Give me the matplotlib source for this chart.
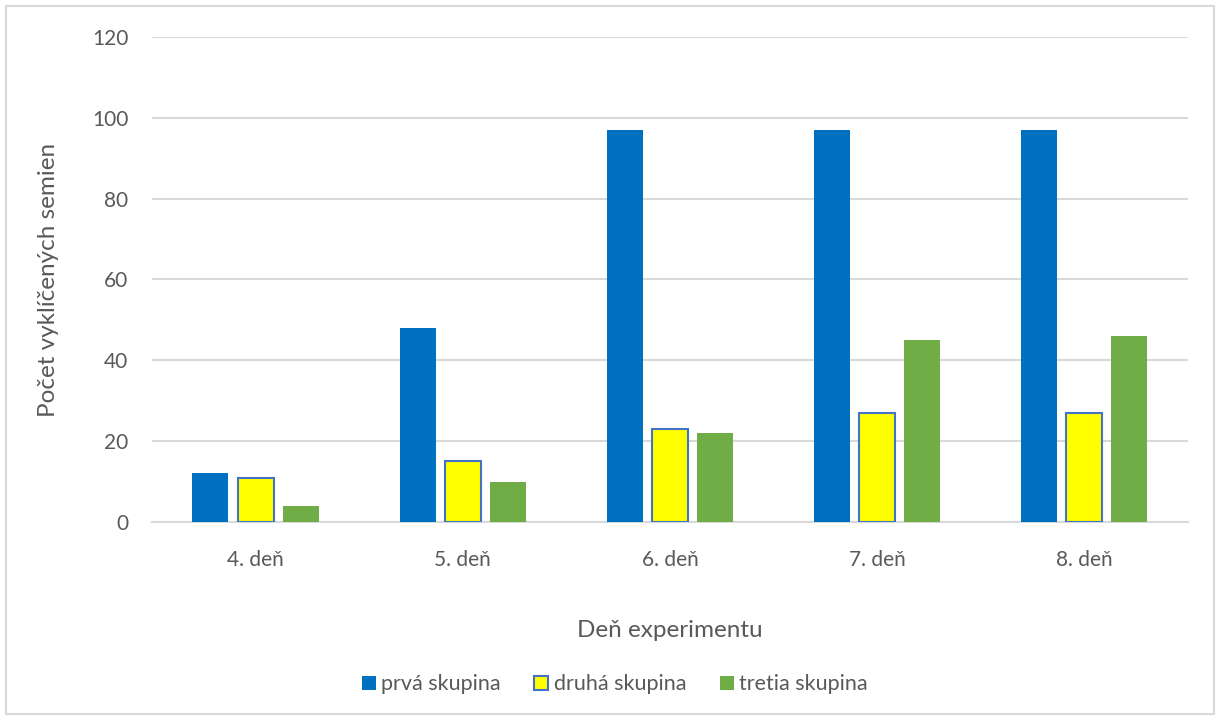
import matplotlib.pyplot as plt
import numpy as np
from matplotlib.patches import Rectangle

days = ["4. deň", "5. deň", "6. deň", "7. deň", "8. deň"]
series_names = ["prvá skupina", "druhá skupina", "tretia skupina"]
prva = [12, 48, 97, 97, 97]
druha = [11, 15, 23, 27, 27]
tretia = [4, 10, 22, 45, 46]
y_ticks = [0, 20, 40, 60, 80, 100, 120]

plt.rcParams['font.family'] = ['Lato', 'DejaVu Sans']
text_color = '#595959'
grid_color = '#d9d9d9'

fig = plt.figure(figsize=(12.2, 7.18), dpi=100)
fig.patches.append(Rectangle((0.005, 0.006), 0.99, 0.986, transform=fig.transFigure,
                             fill=False, edgecolor=grid_color, linewidth=1.5))
ax = fig.add_axes([0.1246, 0.273, 0.849, 0.6755])

x = np.arange(len(days))
w = 0.174
step = 0.218
ax.bar(x - step, prva, w, color='#0070C0', zorder=3, label=series_names[0])
ax.bar(x, druha, w, color='#FFFF00', edgecolor='#4472C4', linewidth=1.5, zorder=3,
       label=series_names[1])
ax.bar(x + step, tretia, w, color='#70AD47', zorder=3, label=series_names[2])

ax.set_xlim(-0.5, len(days) - 0.5)
ax.set_ylim(0, 120)
ax.set_yticks(y_ticks)
ax.set_xticks(x)
ax.set_xticklabels(days)
ax.yaxis.grid(True, color=grid_color, linewidth=1.5, zorder=0)
for s in ['top', 'right', 'left']:
    ax.spines[s].set_visible(False)
ax.spines['bottom'].set_color(grid_color)
ax.spines['bottom'].set_linewidth(1.5)
ax.tick_params(axis='both', length=0, labelsize=15, colors=text_color)
ax.tick_params(axis='y', pad=17)
ax.tick_params(axis='x', pad=20.5)

ax.set_xlabel("Deň experimentu", fontsize=17.5, color=text_color, labelpad=36)
ax.set_ylabel("Počet vyklíčených semien", fontsize=17.5, color=text_color, labelpad=23.5)

leg = fig.legend(loc='center', bbox_to_anchor=(0.504, 0.047), ncol=3, frameon=False,
                 fontsize=15.5, handlelength=0.65, handleheight=0.65, handletextpad=0.25,
                 columnspacing=1.55)
for t in leg.get_texts():
    t.set_color(text_color)

fig.savefig("out.png", dpi=100)
